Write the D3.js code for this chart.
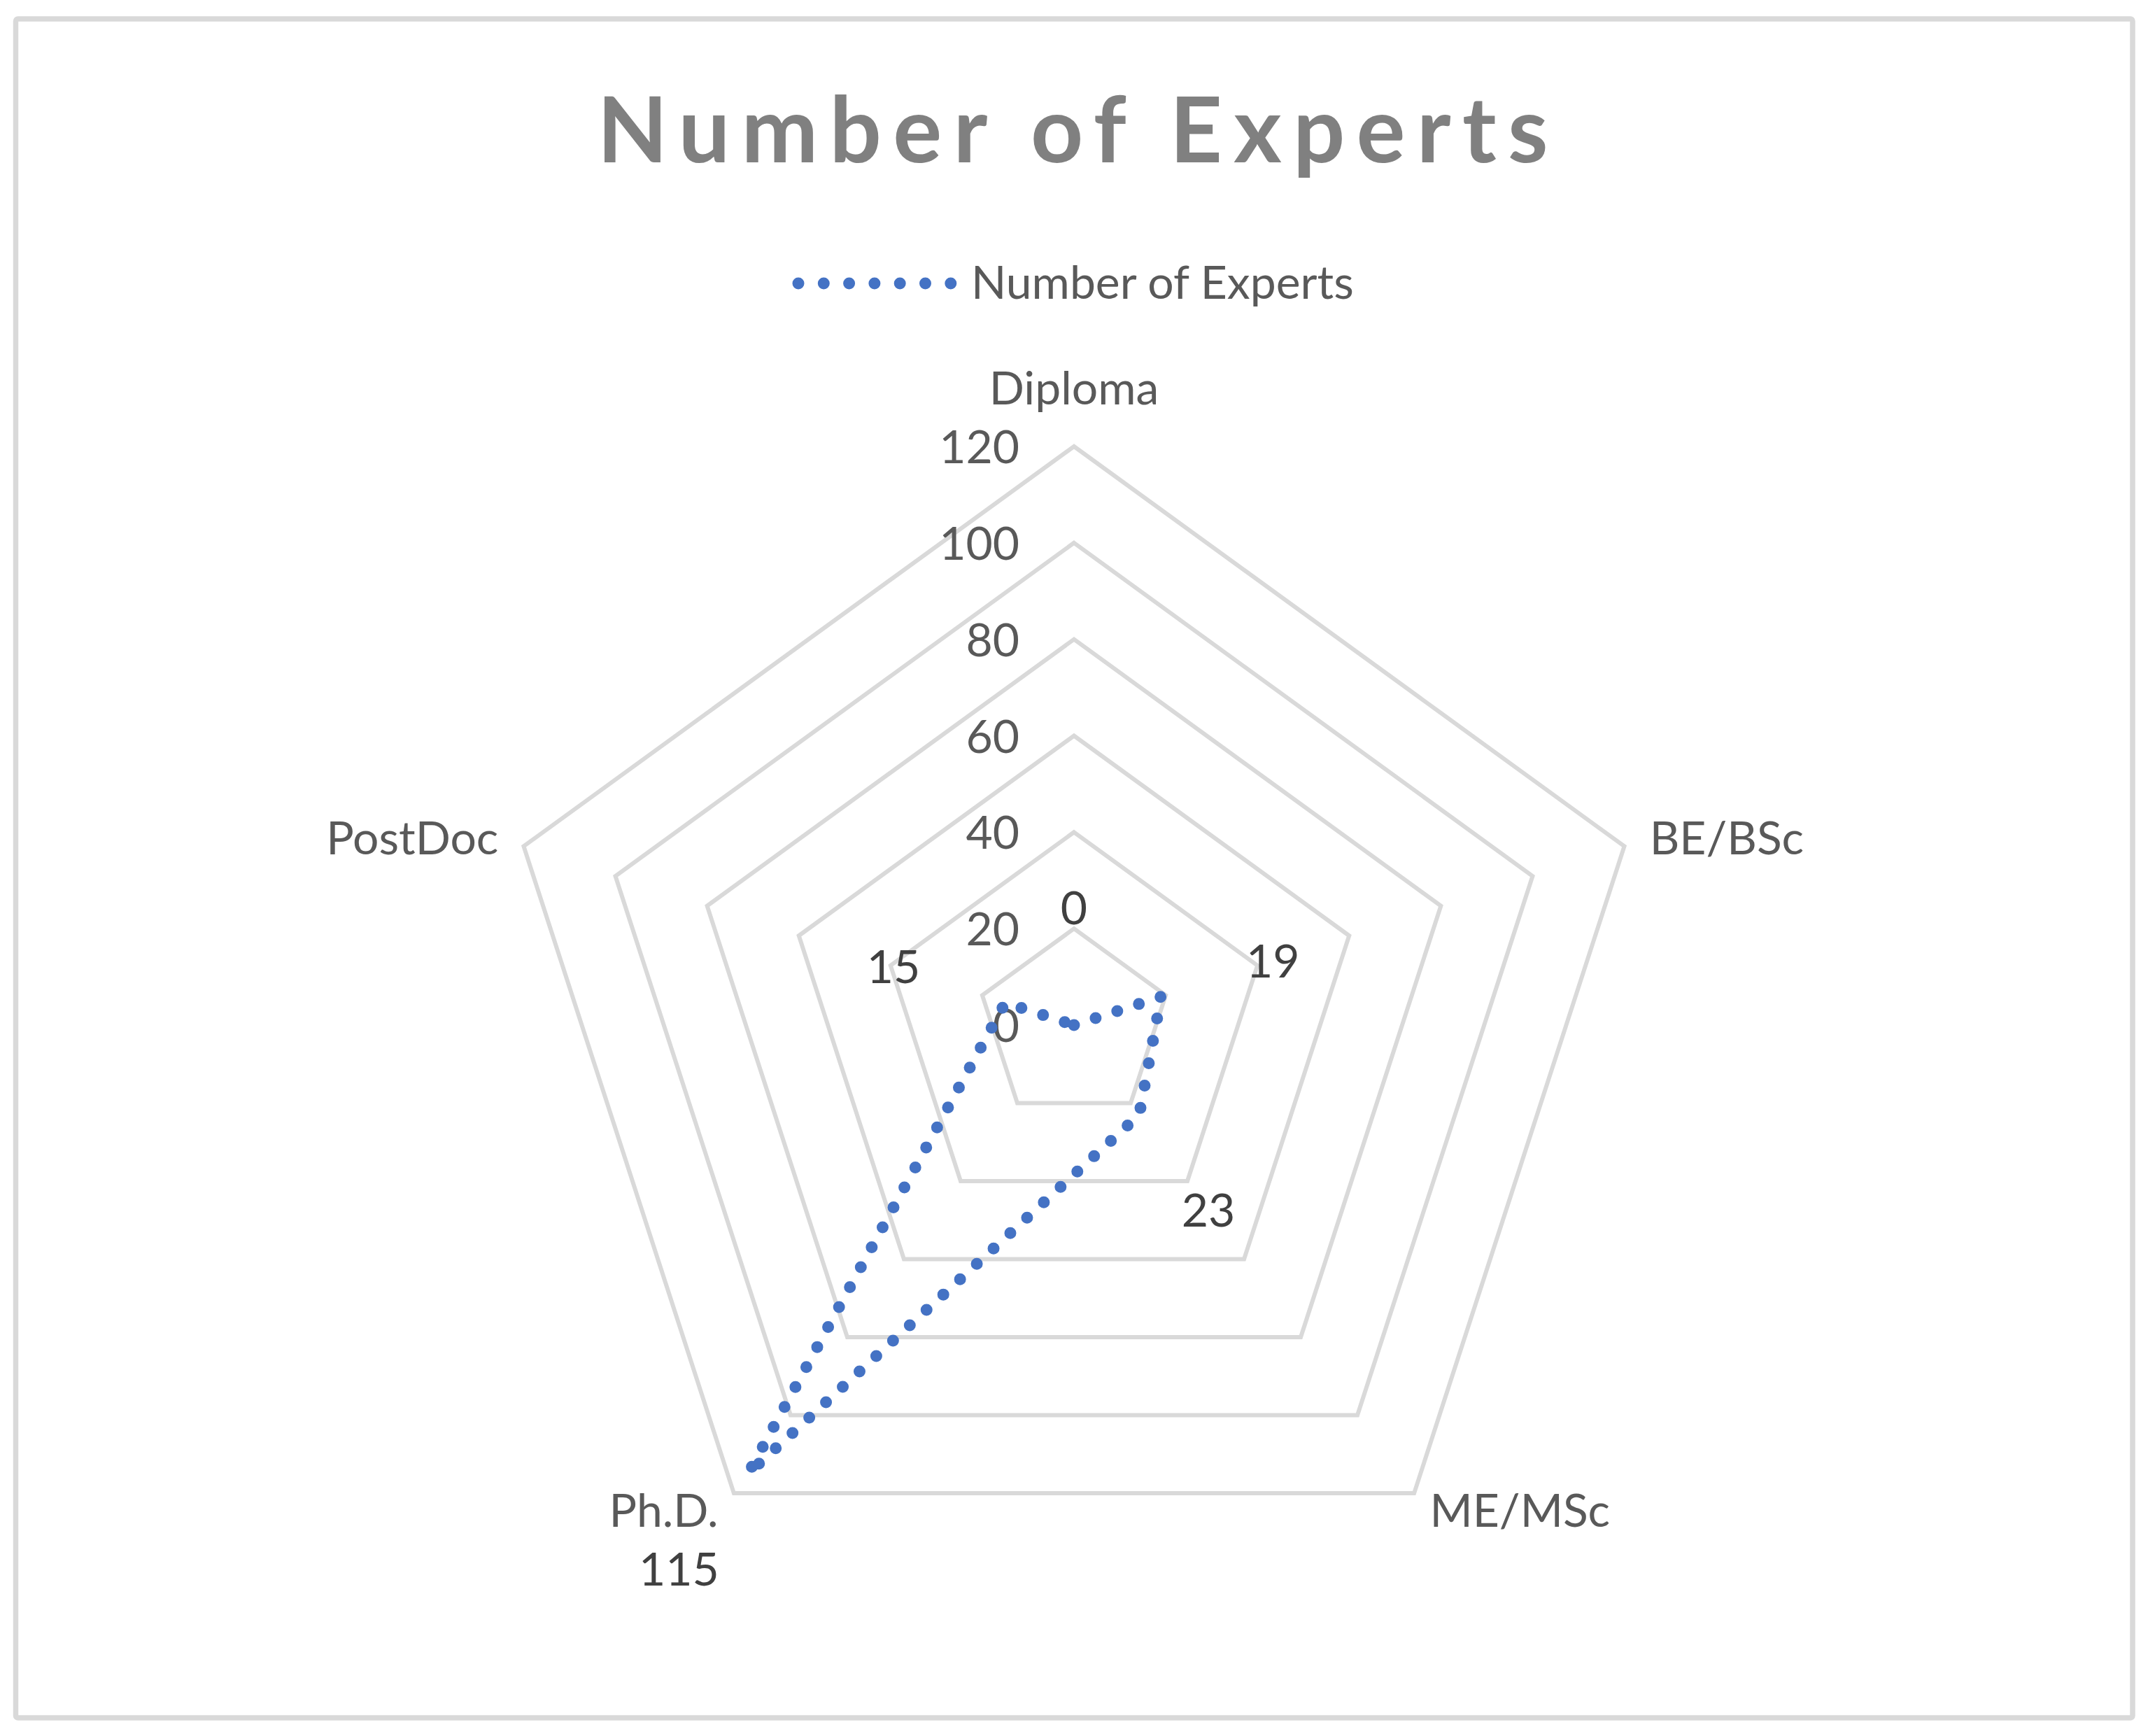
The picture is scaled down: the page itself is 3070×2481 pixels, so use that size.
<!DOCTYPE html>
<head>
<meta charset="utf-8">
<script src="https://d3js.org/d3.v7.min.js"></script>
</head>
<style>
body { margin: 0; background: #fff; }
text { font-family: Lato, "Open Sans", sans-serif; }
.grid { fill: none; stroke: #d9d9d9; stroke-width: 6px; }
.line { fill: none; stroke: #4472c4; stroke-width: 17px; stroke-linecap: round; stroke-dasharray: 0 32.5; }
</style>
<body>
<script>
// data
var categories = ["Diploma", "BE/BSc", "ME/MSc", "Ph.D.", "PostDoc"];
var values = [0, 19, 23, 115, 15];
var seriesName = "Number of Experts";
var tickValues = [0, 20, 40, 60, 80, 100, 120];

var width = 3070, height = 2481;
var cx = 1535, cy = 1465, R = 827;

var svg = d3.select("body").append("svg")
    .attr("width", width)
    .attr("height", height);

// chart border
svg.append("rect")
    .attr("x", 22.5).attr("y", 27)
    .attr("width", 3048 - 22.5).attr("height", 2455 - 27)
    .attr("rx", 3)
    .attr("fill", "#fff")
    .attr("stroke", "#d9d9d9")
    .attr("stroke-width", 7.5);

var r = d3.scaleLinear().domain([0, 120]).range([0, R]);
var angle = d3.scaleLinear().domain([0, categories.length]).range([0, 2 * Math.PI]);

var g = svg.append("g").attr("transform", "translate(" + cx + "," + cy + ")");

function px(i, rad) { return rad * Math.sin(angle(i)); }
function py(i, rad) { return -rad * Math.cos(angle(i)); }

// grid pentagons
var ring = d3.lineRadial()
    .angle(function(d, i) { return angle(i); })
    .curve(d3.curveLinearClosed);

tickValues.slice(1).forEach(function(t) {
  g.append("path")
      .attr("class", "grid")
      .attr("d", ring.radius(function() { return r(t); })(categories));
});

// tick labels
g.selectAll(".tick")
  .data(tickValues)
  .enter().append("text")
    .attr("x", -78)
    .attr("y", function(d) { return -r(d) + 24; })
    .attr("text-anchor", "end")
    .attr("font-size", 66)
    .attr("fill", "#595959")
    .text(function(d) { return d; });

// category labels
g.selectAll(".cat")
  .data(categories)
  .enter().append("text")
    .attr("font-size", 66)
    .attr("fill", "#595959")
    .attr("text-anchor", function(d, i) {
      var s = Math.sin(angle(i));
      return Math.abs(s) < 0.1 ? "middle" : (s > 0 ? "start" : "end");
    })
    .attr("x", function(d, i) { return px(i, R) + Math.sin(angle(i)) * 38; })
    .attr("y", function(d, i) {
      var c = Math.cos(angle(i)), y = py(i, R);
      if (c > 0.9) return y - 60;
      if (c > 0) return y + 12;
      return y + 48;
    })
    .text(function(d) { return d; });

// series line
var line = d3.lineRadial()
    .angle(function(d, i) { return angle(i); })
    .radius(function(d) { return r(d); })
    .curve(d3.curveLinearClosed);

g.append("path")
    .datum(values)
    .attr("class", "line")
    .attr("d", line);

// data labels
g.selectAll(".val")
  .data(values)
  .enter().append("text")
    .attr("font-size", 66)
    .attr("fill", "#404040")
    .attr("text-anchor", "middle")
    .attr("x", function(d, i) { return px(i, r(d) + 168); })
    .attr("y", function(d, i) { return py(i, r(d) + 168) + 24; })
    .text(function(d) { return d; });

// title
svg.append("text")
    .attr("x", 1533)
    .attr("y", 232)
    .attr("text-anchor", "middle")
    .attr("font-size", 131)
    .attr("font-weight", "bold")
    .attr("fill", "#808080")
    .attr("textLength", 1359)
    .attr("lengthAdjust", "spacing")
    .text("Number of Experts");

// legend
svg.append("line")
    .attr("class", "line")
    .attr("x1", 1141).attr("x2", 1365)
    .attr("y1", 405).attr("y2", 405)
    .style("stroke-dasharray", "0 36.3");

svg.append("text")
    .attr("x", 1388)
    .attr("y", 427)
    .attr("font-size", 66)
    .attr("fill", "#595959")
    .text(seriesName);
</script>
</body>
